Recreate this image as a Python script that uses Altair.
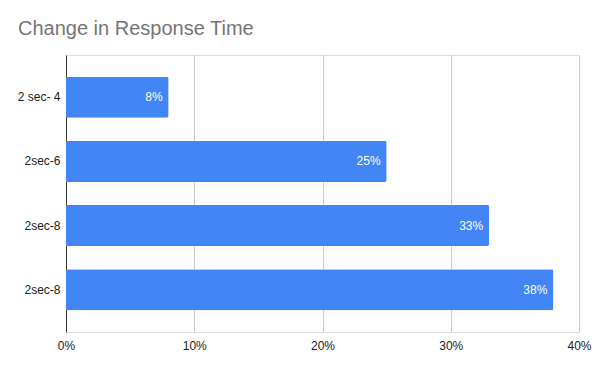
import altair as alt
import pandas as pd

categories = ["2 sec- 4", "2sec-6", "2sec-8", "2sec-8"]
values = [0.08, 0.25, 0.33, 0.38]
x_ticks = [0, 0.1, 0.2, 0.3, 0.4]

df = pd.DataFrame({
    "idx": list(range(len(categories))),
    "category": categories,
    "value": values,
    "label": [f"{round(v*100)}%" for v in values],
})

label_array = "[" + ",".join("'" + c + "'" for c in categories) + "]"

FONT = "Liberation Sans"

y_enc = alt.Y(
    "idx:O",
    title=None,
    scale=alt.Scale(paddingInner=0.36, paddingOuter=0.34),
    axis=alt.Axis(
        labelExpr=f"{label_array}[datum.value]",
        ticks=False,
        domain=True,
        domainColor="#333333",
        labelColor="#222222",
        labelFontSize=12,
        labelFont=FONT,
        labelPadding=6,
        grid=False,
    ),
)

x_enc = alt.X(
    "value:Q",
    title=None,
    scale=alt.Scale(domain=[0, 0.4], nice=False),
    axis=alt.Axis(
        values=x_ticks,
        format=".0%",
        ticks=False,
        domain=False,
        grid=True,
        gridColor="#cccccc",
        labelColor="#222222",
        labelFontSize=12,
        labelFont=FONT,
        labelPadding=8,
        labelFlush=False,
    ),
)

bars = alt.Chart(df).mark_bar(color="#4285F4", cornerRadiusEnd=2).encode(
    x=x_enc, y=y_enc
)

text = alt.Chart(df).mark_text(
    align="right", baseline="middle", dx=-6, color="#ffffff",
    fontSize=12, font=FONT
).encode(
    x="value:Q", y="idx:O", text="label:N"
)

chart = (bars + text).properties(
    width=513,
    height=277,
    padding={"left": 58, "top": 47, "right": 13, "bottom": 31},
    autosize=alt.AutoSizeParams(type="none"),
    title=alt.TitleParams(
        "Change in Response Time",
        anchor="start",
        frame="group",
        dx=-48,
        offset=16,
        font=FONT,
        fontSize=20,
        fontWeight="normal",
        color="#757575",
    ),
).configure_view(stroke=None).configure(background="#ffffff")

chart.save("out.html", embed_options={"renderer": "svg", "actions": False})
